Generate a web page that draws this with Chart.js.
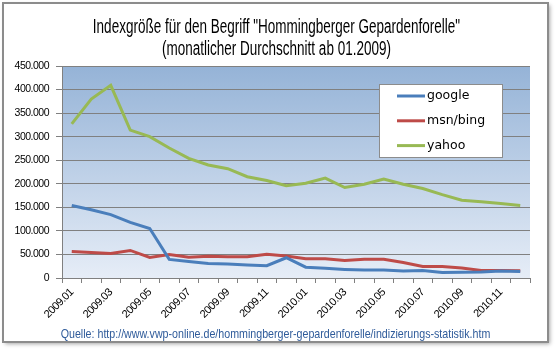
<!DOCTYPE html>
<html>
<head>
<meta charset="utf-8">
<script src="https://cdn.jsdelivr.net/npm/chart.js@4"></script>
<style>
  body { margin: 0; background: #fff; }
</style>
</head>
<body>
<canvas id="indexChart" width="556" height="352"></canvas>
<script>
// Monthly averages from 01.2009
const months = ['2009.01', '2009.02', '2009.03', '2009.04', '2009.05', '2009.06',
    '2009.07', '2009.08', '2009.09', '2009.10', '2009.11', '2009.12',
    '2010.01', '2010.02', '2010.03', '2010.04', '2010.05', '2010.06',
    '2010.07', '2010.08', '2010.09', '2010.10', '2010.11', '2010.12'];
const google = [154000, 145000, 134500, 118000, 105000, 39500, 35000, 31000, 29500, 27500, 26000, 43000,
    23000, 20500, 18300, 17000, 17000, 14800, 16000, 11500, 12000, 12500, 15000, 14000];
const msnBing = [56000, 54000, 52000, 58500, 43500, 50000, 44000, 46000, 45000, 45000, 50500, 46500,
    41000, 41000, 37000, 40000, 40000, 33000, 24500, 24500, 21000, 16000, 16000, 15500];
const yahoo = [327000, 380000, 409000, 314000, 300000, 276000, 254000, 240000, 232000, 215000, 207000, 196000,
    201000, 212000, 192000, 199000, 210000, 199000, 190000, 177000, 165000, 162000, 158000, 154000];

const titleLines = ['Indexgröße für den Begriff "Hommingberger Gepardenforelle"',
    '(monatlicher Durchschnitt ab 01.2009)'];
const source = 'Quelle: http://www.vwp-online.de/hommingberger-gepardenforelle/indizierungs-statistik.htm';

const sans = '"Liberation Sans", Arial, sans-serif';

// German thousands separator
const fmt = v => v === 0 ? '0' : String(v).replace(/\B(?=(\d{3})+(?!\d))/g, '.');

// no condensed font installed, so squeeze the text horizontally
function narrowText(c, text, x, y, size, squeeze, color) {
    c.save();
    c.font = size + 'px ' + sans;
    c.fillStyle = color;
    c.textAlign = 'center';
    c.textBaseline = 'alphabetic';
    c.translate(x, y);
    c.scale(squeeze, 1);
    c.fillText(text, 0, 0);
    c.restore();
}

// White card with grey border and soft shadow, plus gradient plot area
const background = {
    id: 'background',
    beforeDraw(chart) {
        const c = chart.ctx;
        const a = chart.chartArea;
        c.save();
        c.fillStyle = '#fff';
        c.fillRect(0, 0, chart.width, chart.height);
        c.shadowColor = 'rgba(0,0,0,0.35)';
        c.shadowBlur = 4;
        c.shadowOffsetX = 2;
        c.shadowOffsetY = 2;
        c.fillRect(3, 3, 545, 339);
        c.shadowColor = 'transparent';
        c.strokeStyle = '#8c8c8c';
        c.lineWidth = 2;
        c.strokeRect(3, 3, 545, 339);
        const g = c.createLinearGradient(0, a.top, 0, a.bottom);
        g.addColorStop(0, '#95b3d7');
        g.addColorStop(1, '#e6edf7');
        c.fillStyle = g;
        c.fillRect(a.left, a.top, a.right - a.left, a.bottom - a.top);
        c.restore();
        // tighter tick labels
        c.letterSpacing = '-0.5px';
    }
};

// Title, source line and legend box inside the plot
const overlay = {
    id: 'overlay',
    afterDraw(chart) {
        const c = chart.ctx;
        c.letterSpacing = '0px';
        narrowText(c, titleLines[0], 276.5, 32.5, 20, 0.675, '#000');
        narrowText(c, titleLines[1], 276.5, 54.5, 20, 0.675, '#000');
        narrowText(c, source, 275.5, 338, 13, 0.82, '#2f5b9a');

        const x = 379, y = 84, w = 123, h = 73;
        c.save();
        c.fillStyle = '#fff';
        c.fillRect(x, y, w, h);
        c.strokeStyle = '#8c8c8c';
        c.lineWidth = 1;
        c.strokeRect(x + 0.5, y + 0.5, w, h);
        c.font = '12.5px "DejaVu Sans", sans-serif';
        c.textBaseline = 'middle';
        chart.data.datasets.forEach((ds, i) => {
            const ly = y + 12 + i * 24.8;
            c.strokeStyle = ds.borderColor;
            c.lineWidth = 3;
            c.beginPath();
            c.moveTo(397, ly);
            c.lineTo(425, ly);
            c.stroke();
            c.fillStyle = '#000';
            c.fillText(ds.label, 427, ly);
        });
        c.restore();
    }
};

const data = {
    labels: months,
    datasets: [
        { label: 'google', data: google, borderColor: '#4a7ebb' },
        { label: 'msn/bing', data: msnBing, borderColor: '#be4b48' },
        { label: 'yahoo', data: yahoo, borderColor: '#98b954' }
    ]
};

new Chart(document.getElementById('indexChart'), {
    type: 'line',
    data,
    plugins: [background, overlay],
    options: {
        responsive: false,
        animation: false,
        layout: { padding: { left: 14, right: 26, top: 66, bottom: 26 } },
        elements: {
            line: { borderWidth: 3, tension: 0 },
            point: { radius: 0 }
        },
        plugins: {
            legend: { display: false },
            tooltip: { enabled: false },
            title: { display: false }
        },
        scales: {
            x: {
                offset: true,
                afterFit: s => { s.height = 48; },
                border: { color: '#808080' },
                grid: { offset: true, drawOnChartArea: false, tickLength: 5, color: '#808080' },
                ticks: {
                    autoSkip: false,
                    minRotation: 45,
                    maxRotation: 45,
                    padding: 3,
                    color: '#000',
                    font: { family: sans, size: 11 },
                    callback: (v, i) => i % 2 === 0 ? months[i] : ''
                }
            },
            y: {
                min: 0,
                max: 450000,
                afterFit: s => { s.width = 48; },
                border: { color: '#808080' },
                grid: { color: '#808080', tickLength: 6 },
                ticks: {
                    stepSize: 50000,
                    padding: 7,
                    color: '#000',
                    font: { family: sans, size: 10.5 },
                    callback: v => fmt(v)
                }
            }
        }
    }
});
</script>
</body>
</html>
